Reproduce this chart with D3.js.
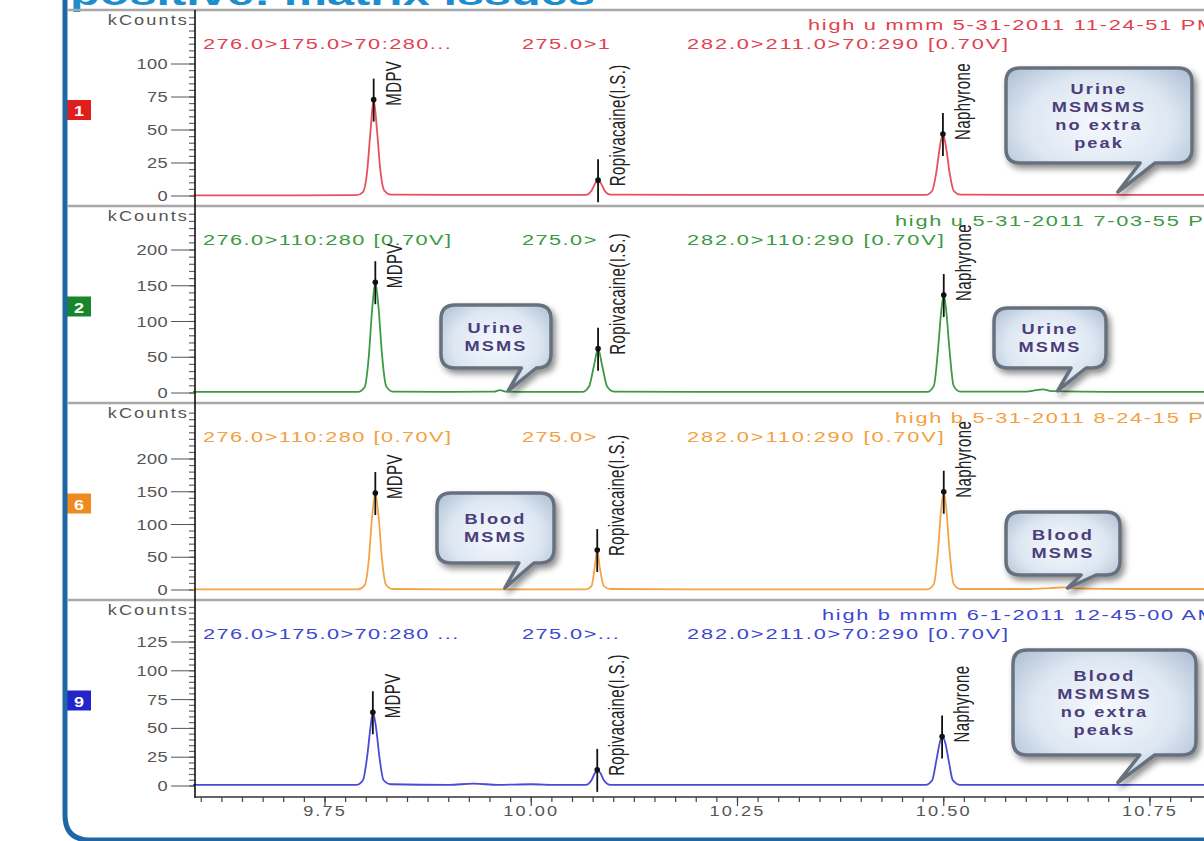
<!DOCTYPE html>
<html>
<head>
<meta charset="utf-8">
<script src="https://cdn.jsdelivr.net/npm/d3@7"></script>
<style>
  body { margin: 0; background: #fff; overflow: hidden; }
  svg { display: block; font-family: "Liberation Sans", Arial, sans-serif; }
</style>
</head>
<body>
<script>
// chromatogram traces, [retention time (min), kCounts]
var redTrace = [[9.59,0.5],[9.70,0.5],[9.788,0.6],[9.796,3],[9.801,18],[9.805,48],[9.809,73],[9.813,50],[9.817,20],[9.822,4],[9.830,1],[9.90,0.8],[10.00,0.8],
  [10.066,0.8],[10.073,4],[10.077,9],[10.081,12],[10.085,9],[10.089,4],[10.096,1],[10.20,0.8],[10.40,0.8],
  [10.478,0.8],[10.486,4],[10.491,18],[10.495,36],[10.499,47],[10.503,36],[10.507,18],[10.512,4],[10.520,1],[10.60,0.8],[10.72,0.8],[10.86,0.8]];
var greenTrace = [[9.59,1.5],[9.70,1.5],[9.790,1.5],[9.798,8],[9.803,50],[9.807,115],[9.811,155],[9.815,118],[9.819,55],[9.824,10],[9.832,2],[9.90,1.5],
  [9.955,1.8],[9.962,4],[9.969,2],[10.00,1.5],[10.062,1.5],[10.070,9],[10.076,38],[10.081,62],[10.086,38],[10.092,9],[10.100,2],[10.20,1.5],[10.40,1.5],
  [10.480,1.5],[10.488,10],[10.493,60],[10.497,115],[10.500,137],[10.503,115],[10.507,60],[10.512,10],[10.520,2],[10.60,2],[10.612,4],[10.620,5],[10.632,2.5],[10.70,1.5],[10.86,1.5]];
var orangeTrace = [[9.59,1],[9.70,1],[9.790,1],[9.798,7],[9.803,45],[9.807,110],[9.811,148],[9.815,112],[9.819,48],[9.824,8],[9.832,1.5],[9.90,1],[10.00,1],
  [10.066,1],[10.073,6],[10.077,35],[10.080,61],[10.083,35],[10.088,6],[10.096,1.5],[10.20,1],[10.40,1],
  [10.480,1],[10.488,9],[10.493,60],[10.497,125],[10.500,150],[10.503,125],[10.507,60],[10.512,9],[10.520,1.5],[10.60,1.5],[10.63,3],[10.645,4],[10.66,2.5],[10.72,1.5],[10.86,1.5]];
var blueTrace = [[9.59,1],[9.70,1],[9.788,1],[9.796,5],[9.801,25],[9.805,50],[9.808,64],[9.812,50],[9.816,25],[9.821,5],[9.830,1.5],[9.90,1],[9.93,2],[9.96,1],[10.00,1.5],[10.03,1],
  [10.066,1],[10.073,5],[10.077,11],[10.080,14],[10.084,11],[10.088,5],[10.096,1],[10.20,1],[10.40,1],
  [10.478,1],[10.486,5],[10.491,22],[10.495,37],[10.498,43],[10.502,37],[10.506,22],[10.511,5],[10.520,1],[10.60,1],[10.72,1],[10.86,1]];

var peakNames = ["MDPV", "Ropivacaine(I.S.)", "Naphyrone"];
var peakTimes = [9.81, 10.081, 10.499];

var yTickStep = [25, 50, 50, 25];
var yTickMax = [100, 200, 200, 125];
var xTicks = [9.75, 10.00, 10.25, 10.50, 10.75];

var badgeLabels = ["1", "2", "6", "9"];
var headerLeft = ["276.0>175.0>70:280...", "276.0>110:280 [0.70V]", "276.0>110:280 [0.70V]", "276.0>175.0>70:280 ..."];
var headerMid = ["275.0>1", "275.0>", "275.0>", "275.0>..."];
var headerRight = ["282.0>211.0>70:290 [0.70V]", "282.0>110:290 [0.70V]", "282.0>110:290 [0.70V]", "282.0>211.0>70:290 [0.70V]"];
var headerFile = ["high u mmm 5-31-2011 11-24-51 PM", "high u 5-31-2011 7-03-55 PM", "high b 5-31-2011 8-24-15 PM", "high b mmm 6-1-2011 12-45-00 AM"];

var calloutTexts = [["Urine", "MSMSMS", "no extra", "peak"], ["Urine", "MSMS"], ["Urine", "MSMS"],
                    ["Blood", "MSMS"], ["Blood", "MSMS"], ["Blood", "MSMSMS", "no extra", "peaks"]];
var calloutPanel = [0, 1, 1, 2, 2, 3];
var calloutTimes = [10.711, 9.972, 10.638, 9.968, 10.65, 10.711];

var traces = [redTrace, greenTrace, orangeTrace, blueTrace];

// layout
var W = 1204, H = 841;
var axisX = 195;
var panelTop = [10, 206, 403, 600];
var panelBottom = [206, 403, 600, 797];
var zeroY = [196, 393, 590, 786];
var maxY = [64, 250, 459, 642];
var fileX = [808, 895, 895, 822];
var lineColors = ["#e8505c", "#3c9a44", "#f5a445", "#4a4ad6"];
var textColors = ["#e2414f", "#3a9a42", "#f4a040", "#3c48d2"];
var badgeColors = ["#e01e1e", "#18862a", "#f08a1e", "#2424cc"];
var calloutBoxes = [[1006,68,186,95],[441,305,110,63],[994,308,112,60],[437,493,117,70],[1006,512,114,63],[1013,650,183,105]];

var svg = d3.select("body").append("svg")
    .attr("width", W)
    .attr("height", H);

var defs = svg.append("defs");
var grad = defs.append("radialGradient").attr("id", "bubble").attr("cx", "50%").attr("cy", "45%").attr("r", "65%");
grad.append("stop").attr("offset", "0%").attr("stop-color", "#f6f9fd");
grad.append("stop").attr("offset", "60%").attr("stop-color", "#dde7f2");
grad.append("stop").attr("offset", "100%").attr("stop-color", "#aebfd4");
defs.append("filter").attr("id", "shadow").attr("x", "-20%").attr("y", "-20%").attr("width", "150%").attr("height", "150%")
  .append("feDropShadow").attr("dx", 3).attr("dy", 4).attr("stdDeviation", 3)
  .attr("flood-color", "#000").attr("flood-opacity", 0.45);

var x = d3.scaleLinear().domain([9.75, 10.75]).range([325, 1150]);

function label(g, px, py, str, o) {
  return g.append("text")
    .attr("transform", "translate(" + px + "," + py + ") scale(" + (o.sx || 1.4) + ",1)" + (o.rot ? " rotate(-90)" : ""))
    .attr("text-anchor", o.anchor || "start")
    .style("font-size", (o.size || 14) + "px")
    .style("font-weight", o.weight || "normal")
    .style("letter-spacing", (o.ls || 0) + "px")
    .style("fill", o.fill || "#333")
    .text(str);
}

// title, cut at the top of the slide
svg.append("text")
  .attr("x", 70).attr("y", 5)
  .attr("textLength", 525).attr("lengthAdjust", "spacingAndGlyphs")
  .style("font-size", "34px").style("font-weight", "bold").style("fill", "#1c8ed0")
  .text("positive: matrix issues");

// panel frames
svg.selectAll(".sep").data(panelTop).enter().append("line")
  .attr("x1", 68).attr("x2", W).attr("y1", function(d) { return d; }).attr("y2", function(d) { return d; })
  .style("stroke", "#a8a8a8").style("stroke-width", 2.5);

traces.forEach(function(trace, i) {
  var g = svg.append("g");
  var y = d3.scaleLinear().domain([0, yTickMax[i]]).range([zeroY[i], maxY[i]]);
  var step = yTickStep[i];
  var top = y.invert(panelTop[i] + 5);

  // y ruler
  g.selectAll(".minor").data(d3.range(0, top, step / 5)).enter().append("line")
    .attr("x1", axisX - 6).attr("x2", axisX)
    .attr("y1", function(d) { return y(d); }).attr("y2", function(d) { return y(d); })
    .style("stroke", "#666").style("stroke-width", 1.2);
  var major = d3.range(0, yTickMax[i] + 1, step);
  g.selectAll(".major").data(major).enter().append("line")
    .attr("x1", axisX - 24).attr("x2", axisX)
    .attr("y1", function(d) { return y(d); }).attr("y2", function(d) { return y(d); })
    .style("stroke", "#555").style("stroke-width", 1);
  major.forEach(function(v) {
    label(g, axisX - 27, y(v) + 5, v, {size: 14, sx: 1.3, ls: 0.3, anchor: "end", fill: "#555"});
  });
  label(g, axisX - 6, panelTop[i] + 15, "kCounts", {size: 14, sx: 1.3, ls: 1.6, anchor: "end", fill: "#555"});

  // badge
  var mid = (panelTop[i] + panelBottom[i]) / 2 + 2;
  g.append("rect").attr("x", 67).attr("y", mid - 10).attr("width", 24).attr("height", 20)
    .style("fill", badgeColors[i]);
  label(g, 79, mid + 6, badgeLabels[i], {size: 15, sx: 1.2, anchor: "middle", fill: "#fff", weight: "bold"});

  // header texts
  var hc = textColors[i];
  label(g, fileX[i], panelTop[i] + 20, headerFile[i], {size: 15, sx: 1.45, ls: 1.2, fill: hc});
  label(g, 203, panelTop[i] + 39, headerLeft[i], {size: 15, sx: 1.45, ls: 1.0, fill: hc});
  label(g, 522, panelTop[i] + 39, headerMid[i], {size: 15, sx: 1.45, ls: 1.0, fill: hc});
  label(g, 687, panelTop[i] + 39, headerRight[i], {size: 15, sx: 1.45, ls: 1.3, fill: hc});

  // trace
  var line = d3.line()
    .x(function(d) { return x(d[0]); })
    .y(function(d) { return y(d[1]); })
    .curve(d3.curveMonotoneX);
  g.append("path").datum(trace)
    .attr("d", line)
    .style("fill", "none").style("stroke", lineColors[i]).style("stroke-width", 1.8);

  // peak markers and names
  peakTimes.forEach(function(t, k) {
    var near = trace.filter(function(d) { return Math.abs(d[0] - t) < 0.015; });
    var apex = near.reduce(function(a, b) { return b[1] > a[1] ? b : a; });
    var px = x(apex[0]), py = y(apex[1]);
    g.append("line").attr("x1", px).attr("x2", px)
      .attr("y1", py - 21).attr("y2", Math.min(py + 22, panelBottom[i] - 1))
      .style("stroke", "#111").style("stroke-width", 1.8);
    g.append("circle").attr("cx", px).attr("cy", py).attr("r", 2.8).style("fill", "#111");
    label(g, px + 27, py + 6, peakNames[k], {size: 15, sx: 1.45, ls: 0.4, fill: "#222", rot: true});
  });
});

// y axis line
svg.append("line").attr("x1", axisX).attr("x2", axisX).attr("y1", panelTop[0]).attr("y2", 798)
  .style("stroke", "#111").style("stroke-width", 1.6);

// x axis
svg.append("line").attr("x1", axisX).attr("x2", W).attr("y1", 797).attr("y2", 797)
  .style("stroke", "#333").style("stroke-width", 1.4);
var minorX = d3.range(9.6, 10.86, 0.025);
svg.selectAll(".xminor").data(minorX).enter().append("line")
  .attr("x1", function(d) { return x(d); }).attr("x2", function(d) { return x(d); })
  .attr("y1", 797).attr("y2", 802)
  .style("stroke", "#444").style("stroke-width", 1.2);
svg.selectAll(".xmajor").data(xTicks).enter().append("line")
  .attr("x1", function(d) { return x(d); }).attr("x2", function(d) { return x(d); })
  .attr("y1", 797).attr("y2", 806)
  .style("stroke", "#444").style("stroke-width", 1.2);
xTicks.forEach(function(t) {
  label(svg, x(t), 816, d3.format(".2f")(t), {size: 14, sx: 1.3, ls: 1.6, anchor: "middle", fill: "#555"});
});

// callouts
calloutTexts.forEach(function(lines, c) {
  var b = calloutBoxes[c], p = calloutPanel[c];
  var y = d3.scaleLinear().domain([0, yTickMax[p]]).range([zeroY[p], maxY[p]]);
  var tipX = x(calloutTimes[c]), tipY = y(3);
  var bx = b[0], by = b[1], w = b[2], h = b[3], r = 14;
  var ta = tipX + w * 0.12, tb = ta + 15;
  var path = "M" + (bx + r) + "," + by + "H" + (bx + w - r) +
    "Q" + (bx + w) + "," + by + " " + (bx + w) + "," + (by + r) +
    "V" + (by + h - r) + "Q" + (bx + w) + "," + (by + h) + " " + (bx + w - r) + "," + (by + h) +
    "H" + tb + "L" + tipX + "," + tipY + "L" + ta + "," + (by + h) +
    "H" + (bx + r) + "Q" + bx + "," + (by + h) + " " + bx + "," + (by + h - r) +
    "V" + (by + r) + "Q" + bx + "," + by + " " + (bx + r) + "," + by + "Z";
  var g = svg.append("g");
  g.append("path").attr("d", path)
    .style("fill", "url(#bubble)").style("stroke", "#66717d").style("stroke-width", 3.5)
    .style("stroke-linejoin", "round").attr("filter", "url(#shadow)");
  var lh = 18, first = by + h / 2 - (lines.length - 1) * lh / 2 + 5;
  lines.forEach(function(s, k) {
    label(g, bx + w / 2, first + k * lh, s, {size: 14, sx: 1.3, ls: 1.6, anchor: "middle", fill: "#4b3d7a", weight: "bold"});
  });
});

// slide frame on the left
svg.append("path")
  .attr("d", "M65,-5V815Q65,840 90,840H" + (W + 10))
  .style("fill", "none").style("stroke", "#1d67a6").style("stroke-width", 5);
</script>
</body>
</html>
